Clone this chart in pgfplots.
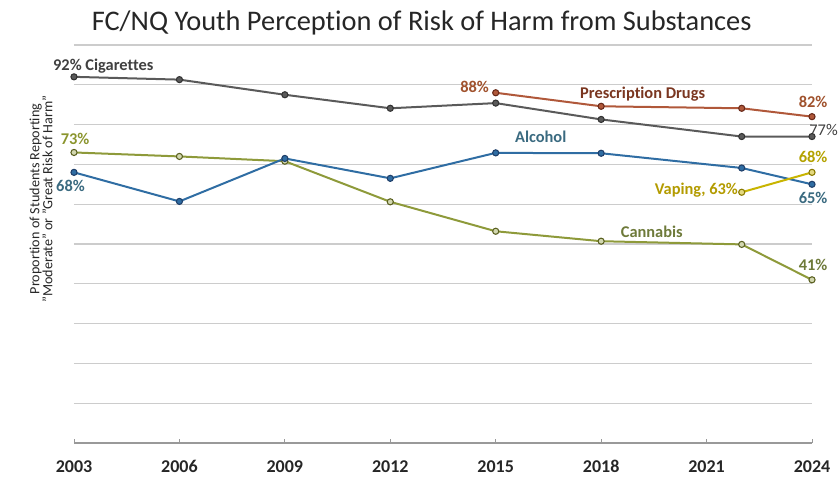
\documentclass[border=0pt]{standalone}
\usepackage{fontspec}
\setmainfont[Ligatures={TeX,NoCommon}]{Carlito}
\usepackage{pgfplots}
\pgfplotsset{compat=1.18}
\definecolor{cigL}{HTML}{5A5A5A}
\definecolor{cigM}{HTML}{333333}
\definecolor{cigT}{HTML}{404040}
\definecolor{alcL}{HTML}{2F6DA3}
\definecolor{alcM}{HTML}{1F3F6A}
\definecolor{alcT}{HTML}{3A6A80}
\definecolor{canL}{HTML}{8E9A3A}
\definecolor{canM}{HTML}{5A6020}
\definecolor{canT}{HTML}{6E7A3A}
\definecolor{preL}{HTML}{B0583A}
\definecolor{preM}{HTML}{6A2A1A}
\definecolor{preT}{HTML}{A0522D}
\definecolor{vapL}{HTML}{C8B400}
\definecolor{vapM}{HTML}{8A7A00}
\definecolor{vapT}{HTML}{B39B00}
\begin{document}
\begin{tikzpicture}
\path[use as bounding box] (-55.5pt,-24.75pt) rectangle (573.75pt,332.25pt);
\begin{axis}[
  at={(0,0)}, anchor=south west,
  scale only axis, width=553.5pt, height=298.5pt,
  xmin=2003, xmax=2024, ymin=0, ymax=100,
  axis x line*=bottom, axis y line*=left,
  y axis line style={draw=none},
  x axis line style={draw=black!40, line width=0.8pt},
  ytick={10,20,...,100}, yticklabels={}, ytick style={draw=none},
  ymajorgrids, grid style={draw=black!20, line width=0.8pt},
  xtick={2003,2006,...,2024}, minor x tick num=2,
  xtick align=inside, tick style={draw=black!40, line width=0.6pt},
  major tick length=3pt, minor tick length=3pt,
  xticklabel style={font=\fontsize{13.5}{14}\selectfont\bfseries, text=black!85, yshift=-9.5pt},
  /pgf/number format/assume math mode=true,
  x tick label style={/pgf/number format/1000 sep={}},
  clip=false,
  every axis plot/.append style={line width=1.5pt, mark=*, mark size=2.3pt},
]
\addplot[color=cigL, mark options={fill=cigL, draw=cigM, line width=0.8pt}] coordinates {
 (2003,92) (2006,91.3) (2009,87.5) (2012,84.1) (2015,85.4) (2018,81.3) (2022,77) (2024,77)};
\addplot[color=preL, mark options={fill=preL, draw=preM, line width=0.8pt}] coordinates {
 (2015,88) (2018,84.6) (2022,84.1) (2024,82)};
\addplot[color=canL, mark options={fill=canL!40, draw=canM, line width=0.8pt}] coordinates {
 (2003,73) (2006,72.0) (2009,70.8) (2012,60.6) (2015,53.2) (2018,50.7) (2022,49.9) (2024,41)};
\addplot[color=alcL, mark options={fill=alcL, draw=alcM, line width=0.8pt}] coordinates {
 (2003,68) (2006,60.7) (2009,71.5) (2012,66.5) (2015,72.9) (2018,72.8) (2022,69.1) (2024,65)};
\addplot[color=vapL, mark options={fill=vapL!50, draw=vapM, line width=0.8pt}] coordinates {
 (2022,63) (2024,68)};

\begin{scope}[every node/.style={font=\fontsize{12.3}{14}\selectfont\bfseries, inner sep=0pt}]
\node[anchor=west, text=cigT] at (axis cs:2002.4,94.7) {92\% Cigarettes};
\node[text=canT!80!yellow] at (axis cs:2003.03,76.4) {73\%};
\node[text=alcT] at (axis cs:2002.9,64.6) {68\%};
\node[text=preT] at (axis cs:2014.4,89.4) {88\%};
\node[text=alcT] at (axis cs:2016.28,76.9) {Alcohol};
\node[text=preM!70!preT] at (axis cs:2019.18,87.7) {Prescription Drugs};
\node[text=preT] at (axis cs:2024.03,85.7) {82\%};
\node[anchor=east, text=cigT, font=\fontsize{12.3}{14}\selectfont] at (axis cs:2024.74,78.6) {77\%};
\node[text=vapL!90!black] at (axis cs:2024.03,71.9) {68\%};
\node[anchor=east, text=vapT] at (axis cs:2021.9,63.6) {Vaping, 63\%};
\node[text=alcT] at (axis cs:2024.03,61.6) {65\%};
\node[text=canT] at (axis cs:2019.44,53.0) {Cannabis};
\node[text=canT] at (axis cs:2024.03,44.7) {41\%};
\end{scope}

\node[font=\fontsize{21.3}{24}\selectfont, text=black!85] at ([xshift=-16pt,yshift=16.5pt]rel axis cs:0.5,1) {FC/NQ Youth Perception of Risk of Harm from Substances};
\node[rotate=90, align=center, font=\fontsize{10.6}{9.75}\selectfont, text=black!85] at ([xshift=-24.75pt]rel axis cs:0,0.613) {Proportion of Students Reporting\\"Moderate" or "Great Risk of Harm"};
\end{axis}
\end{tikzpicture}
\end{document}
